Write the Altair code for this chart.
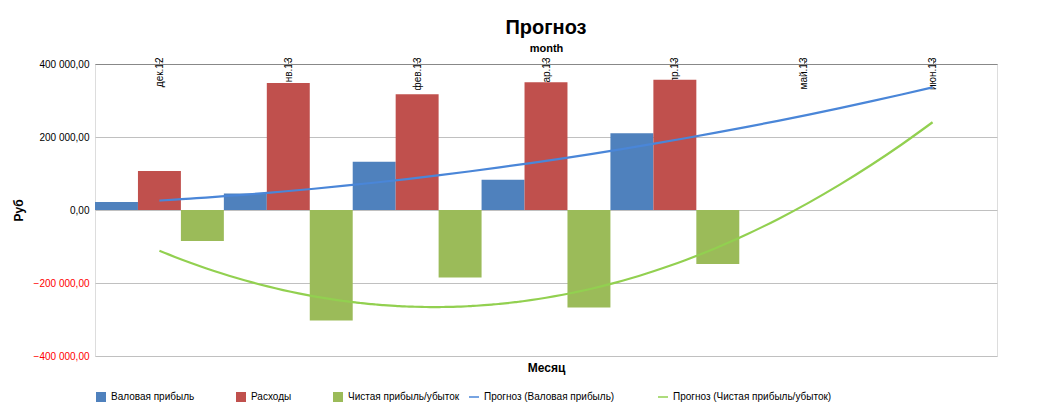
import altair as alt
import pandas as pd

months = ["дек.12", "янв.13", "фев.13", "мар.13", "апр.13", "май.13", "июн.13"]
gross = [22000, 45000, 132000, 83000, 210000]
costs = [107000, 348000, 317000, 350000, 357000]
net = [-85000, -303000, -185000, -267000, -148000]

series = ["Валовая прибыль", "Расходы", "Чистая прибыль/убыток"]
trend_names = ["Прогноз (Валовая прибыль)", "Прогноз (Чистая прибыль/убыток)"]

rows = []
for name, vals in zip(series, [gross, costs, net]):
    for i, v in enumerate(vals):
        rows.append({"month": months[i], "idx": i, "series": name, "value": v})
df = pd.DataFrame(rows)
labels = pd.DataFrame({"month": months})

font = "Liberation Sans"
W, H = 902, 292

x_band = alt.X("month:N", sort=months, scale=alt.Scale(domain=months, paddingInner=0, paddingOuter=0),
               axis=alt.Axis(title="Месяц", labels=False, ticks=False, domain=False,
                             titleFontSize=12, titleFont=font, titleFontWeight="bold", titlePadding=6))
y_ax = alt.Y("value:Q", scale=alt.Scale(domain=[-400000, 400000], nice=False),
             axis=alt.Axis(title="Руб", values=list(range(-400000, 400001, 100000)),
                           labelExpr="replace(replace(format(datum.value, ',.2f'), regexp(',', 'g'), ' '), '.', ',')",
                           labelColor=alt.condition("datum.value < 0", alt.value("#ff0000"), alt.value("black")),
                           gridColor="#c0c0c0", domain=False, ticks=False, labelPadding=6,
                           titleFontSize=12, titleFont=font, titleFontWeight="bold", titlePadding=8))

bars = alt.Chart(df).mark_bar().encode(
    x=x_band,
    xOffset=alt.XOffset("series:N", sort=series, scale=alt.Scale(paddingInner=0)),
    y=y_ax,
    color=alt.Color("series:N", sort=series,
                    scale=alt.Scale(domain=series, range=["#4f81bd", "#c0504d", "#9bbb59"]),
                    legend=alt.Legend(title=None, orient="bottom", direction="horizontal",
                                      symbolType="square", columnPadding=40)),
)

text = alt.Chart(labels).mark_text(dy=14, fontSize=11, font=font, color="black").encode(
    x=alt.X("month:N", sort=months), y=alt.datum(0)
)

trends = alt.Chart(df).transform_filter(
    alt.FieldOneOfPredicate(field="series", oneOf=["Валовая прибыль", "Чистая прибыль/убыток"])
).transform_regression(
    "idx", "value", method="poly", order=2, extent=[0, 6], groupby=["series"]
).transform_calculate(
    trend="'Прогноз (' + datum.series + ')'"
).mark_line(strokeWidth=2.2, interpolate="monotone").encode(
    x=alt.X("idx:Q", scale=alt.Scale(domain=[-0.5, 6.5], nice=False, zero=False), axis=None),
    y=alt.Y("value:Q"),
    stroke=alt.Stroke("trend:N", scale=alt.Scale(domain=trend_names, range=["#4a86d8", "#92d050"]),
                      legend=alt.Legend(title=None, orient="bottom", direction="horizontal",
                                        symbolType="stroke", columnPadding=40)),
)

chart = alt.layer(bars, text, trends).resolve_scale(x="independent").properties(
    width=W, height=H,
    title=alt.TitleParams("Прогноз", fontSize=20, font=font, fontWeight="bold", anchor="middle"),
).configure_view(stroke=None).configure_axis(labelFont=font, labelFontSize=11).configure_legend(
    labelFont=font, labelFontSize=11, labelLimit=400, orient="bottom"
).configure(background="white", padding={"left": 4, "right": 10, "top": 10, "bottom": 6})

chart.save("out.html", embed_options={"renderer": "svg", "actions": False})
